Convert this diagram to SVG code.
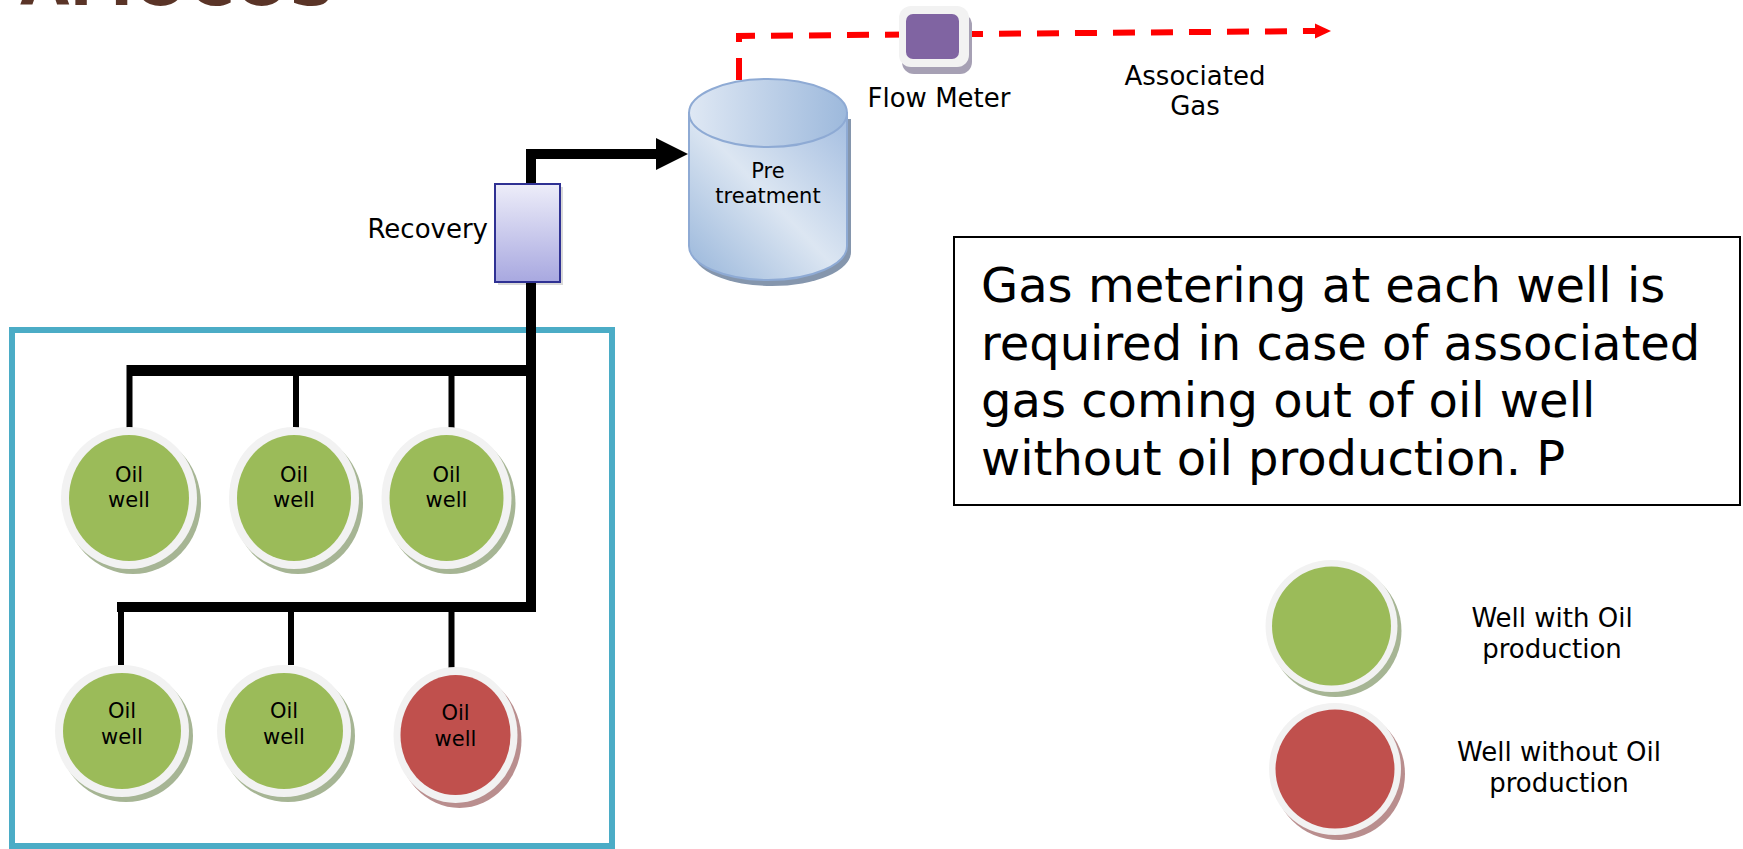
<svg xmlns="http://www.w3.org/2000/svg" width="1743" height="849" viewBox="0 0 1743 849">
<defs>
<style>
.t{font-family:"DejaVu Sans","Verdana",sans-serif;fill:#000}
.lbl{font-size:26px}
.sm{font-size:21px}
.pipe{fill:none;stroke:#000;stroke-linejoin:miter}
.ring{fill:#f2f2f2}
.gsh{fill:#a6b594}
.rsh{fill:#b98e8e}
.green{fill:#9bbb59}
.red{fill:#c0504d}
</style>
<linearGradient id="cylBody" x1="0" y1="1" x2="1" y2="0">
<stop offset="0" stop-color="#97b5da"/>
<stop offset="0.5" stop-color="#dce6f2"/>
<stop offset="1" stop-color="#a3bde0"/>
</linearGradient>
<linearGradient id="cylTop" x1="0" y1="0" x2="1" y2="0">
<stop offset="0" stop-color="#dfe8f4"/>
<stop offset="1" stop-color="#9db9dc"/>
</linearGradient>
<linearGradient id="recGrad" x1="0" y1="0" x2="0" y2="1">
<stop offset="0" stop-color="#ededf9"/>
<stop offset="1" stop-color="#a8a8e0"/>
</linearGradient>
</defs>
<rect width="1743" height="849" fill="#fff"/>

<g id="title">
<text x="20" y="5" style="font-family:'DejaVu Sans',sans-serif;font-weight:bold;font-size:64px;fill:#5a3427">AMOCOS</text>
</g>

<g id="container">
<rect x="12" y="330" width="600" height="516" fill="none" stroke="#4bacc6" stroke-width="6"/>
</g>

<g id="connectors">
<path class="pipe" d="M117,607 H531 V154 H658" stroke-width="10"/>
<path class="pipe" d="M127,370.5 H531" stroke-width="11"/>
<polygon points="656,138 688,154 656,170" fill="#000"/>
<path class="pipe" d="M129.5,365 V430 M296,365 V430 M451.5,365 V430" stroke-width="6"/>
<path class="pipe" d="M121,607 V665 M291,607 V665 M451.5,607 V668" stroke-width="6"/>
<path d="M739,80 V36 L1316,31" fill="none" stroke="#ff0000" stroke-width="6" stroke-dasharray="22 16"/>
<polygon points="1315,23.5 1331,31 1315,38.5" fill="#ff0000"/>
</g>

<g id="recovery">
<rect x="498" y="187" width="65" height="98" fill="#000" opacity="0.15"/>
<rect x="495" y="184" width="65" height="98" fill="url(#recGrad)" stroke="#2f3193" stroke-width="2"/>
<text class="t lbl" x="488" y="238" text-anchor="end">Recovery</text>
</g>

<g id="pretreatment">
<path d="M693,119 V252 A79,34 0 0 0 851,252 V119 Z" fill="#8596ad"/>
<path d="M689,113 V246 A79,34 0 0 0 847,246 V113 Z" fill="url(#cylBody)" stroke="#8eaad4" stroke-width="2"/>
<ellipse cx="768" cy="113" rx="79" ry="34" fill="url(#cylTop)" stroke="#8eaad4" stroke-width="2"/>
<text class="t sm" x="768" y="178" text-anchor="middle">Pre</text>
<text class="t sm" x="768" y="203" text-anchor="middle">treatment</text>
</g>

<g id="flowmeter">
<rect x="902" y="13" width="70" height="61" rx="12" fill="#a6a0b4"/>
<rect x="899" y="6" width="70" height="61" rx="12" fill="#f2f2f2"/>
<rect x="906" y="14" width="53" height="45" rx="7" fill="#8064a2"/>
<text class="t lbl" x="939" y="107" text-anchor="middle">Flow Meter</text>
</g>

<g id="associated-gas">
<text class="t lbl" x="1195" y="85" text-anchor="middle">Associated</text>
<text class="t lbl" x="1195" y="115" text-anchor="middle">Gas</text>
</g>

<g id="note">
<rect x="954" y="237" width="786" height="268" fill="#fff" stroke="#000" stroke-width="2"/>
<text class="t" style="font-size:48px" x="981" y="302">Gas metering at each well is</text>
<text class="t" style="font-size:48px" x="981" y="360">required in case of associated</text>
<text class="t" style="font-size:48px" x="981" y="417">gas coming out of oil well</text>
<text class="t" style="font-size:48px" x="981" y="475">without oil production. P</text>
</g>

<g id="well1">
<ellipse class="gsh" cx="133" cy="503" rx="68" ry="71"/>
<ellipse class="ring" cx="129" cy="498" rx="68" ry="71"/>
<ellipse class="green" cx="129" cy="498" rx="60" ry="63"/>
<text class="t sm" x="129" y="482" text-anchor="middle">Oil</text>
<text class="t sm" x="129" y="507" text-anchor="middle">well</text>
</g>
<g id="well2">
<ellipse class="gsh" cx="298" cy="503" rx="65" ry="71"/>
<ellipse class="ring" cx="294" cy="498" rx="65" ry="71"/>
<ellipse class="green" cx="294" cy="498" rx="57" ry="63"/>
<text class="t sm" x="294" y="482" text-anchor="middle">Oil</text>
<text class="t sm" x="294" y="507" text-anchor="middle">well</text>
</g>
<g id="well3">
<ellipse class="gsh" cx="450.5" cy="503" rx="65" ry="71"/>
<ellipse class="ring" cx="446.5" cy="498" rx="65" ry="71"/>
<ellipse class="green" cx="446.5" cy="498" rx="57" ry="63"/>
<text class="t sm" x="446.5" y="482" text-anchor="middle">Oil</text>
<text class="t sm" x="446.5" y="507" text-anchor="middle">well</text>
</g>
<g id="well4">
<ellipse class="gsh" cx="126" cy="736" rx="67" ry="66"/>
<ellipse class="ring" cx="122" cy="731" rx="67" ry="66"/>
<ellipse class="green" cx="122" cy="731" rx="59" ry="58"/>
<text class="t sm" x="122" y="718" text-anchor="middle">Oil</text>
<text class="t sm" x="122" y="744" text-anchor="middle">well</text>
</g>
<g id="well5">
<ellipse class="gsh" cx="288" cy="736" rx="67" ry="66"/>
<ellipse class="ring" cx="284" cy="731" rx="67" ry="66"/>
<ellipse class="green" cx="284" cy="731" rx="59" ry="58"/>
<text class="t sm" x="284" y="718" text-anchor="middle">Oil</text>
<text class="t sm" x="284" y="744" text-anchor="middle">well</text>
</g>
<g id="well6">
<ellipse class="rsh" cx="459.5" cy="740" rx="62" ry="68"/>
<ellipse class="ring" cx="455.5" cy="735" rx="62" ry="68"/>
<ellipse class="red" cx="455.5" cy="735" rx="55" ry="60"/>
<text class="t sm" x="455.5" y="720" text-anchor="middle">Oil</text>
<text class="t sm" x="455.5" y="746" text-anchor="middle">well</text>
</g>

<g id="legend-with-oil">
<circle class="gsh" cx="1335.5" cy="631" r="66"/>
<circle class="ring" cx="1331.5" cy="626" r="66"/>
<circle class="green" cx="1331.5" cy="626" r="59.5"/>
<text class="t lbl" x="1552" y="627" text-anchor="middle">Well with Oil</text>
<text class="t lbl" x="1552" y="658" text-anchor="middle">production</text>
</g>
<g id="legend-without-oil">
<circle class="rsh" cx="1339" cy="774" r="66"/>
<circle class="ring" cx="1335" cy="769" r="66"/>
<circle class="red" cx="1335" cy="769" r="59.5"/>
<text class="t lbl" x="1559" y="761" text-anchor="middle">Well without Oil</text>
<text class="t lbl" x="1559" y="792" text-anchor="middle">production</text>
</g>
</svg>
